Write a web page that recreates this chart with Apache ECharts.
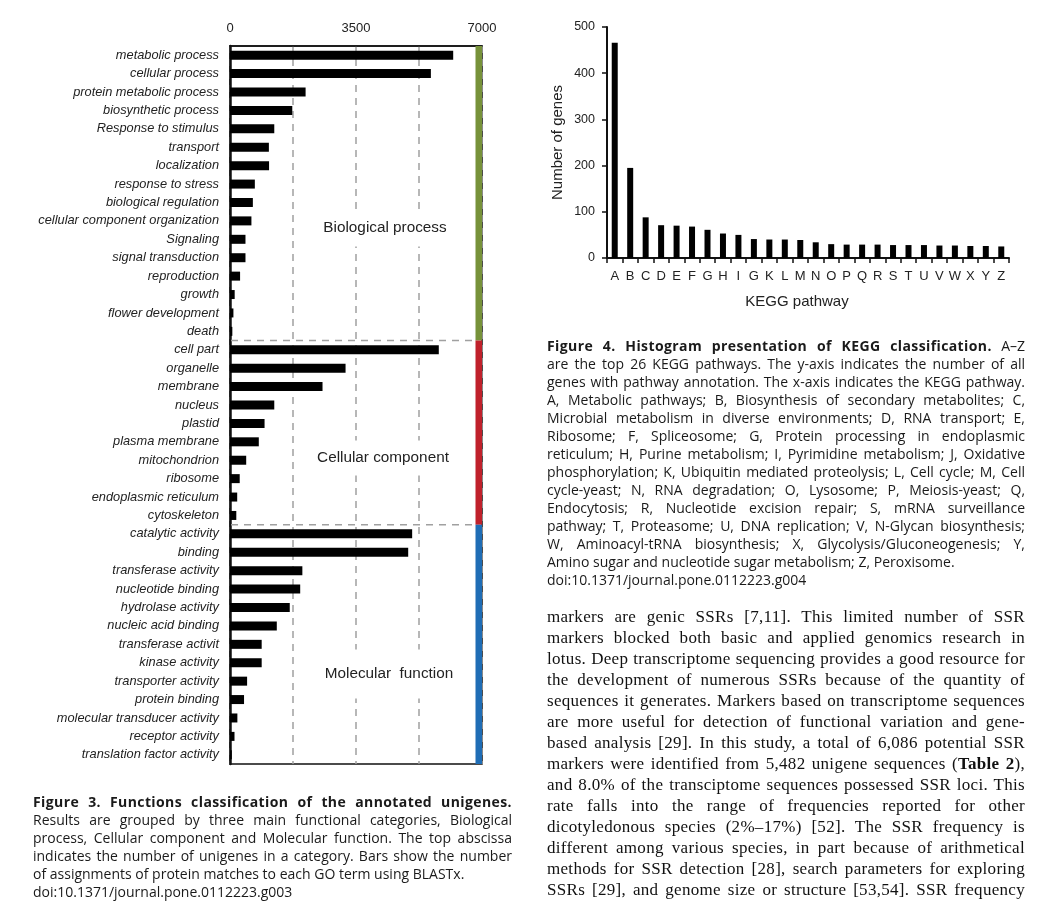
<!DOCTYPE html>
<html><head><meta charset="utf-8">
<script src="https://cdn.jsdelivr.net/npm/echarts@6/dist/echarts.min.js"></script>
<style>
html,body{margin:0;padding:0;background:#fff;}
#wrap{position:relative;width:1039px;height:909px;overflow:hidden;}
#chart{position:absolute;left:0;top:0;width:1039px;height:909px;}
.blk{position:absolute;color:#1a1a1a;}
.cap{font-family:'Open Sans';font-size:14px;line-height:18px;}
.cap b{letter-spacing:0.4px;}
.cap .ln{height:18px;}
.body{font-family:'Liberation Serif';font-size:17px;line-height:21px;color:#111;letter-spacing:0.3px;}
.body .ln{height:21px;}
.ln{white-space:nowrap;}
</style></head>
<body>
<div id="wrap">
<div id="chart"></div>
<div class="blk cap" id="cap3" style="left:33px;top:793px;width:479px;"></div>
<div class="blk cap" id="cap4" style="left:547px;top:337px;width:478px;"></div>
<div class="blk body" id="bodytext" style="left:547px;top:606px;width:478px;"></div>
</div>
<script>
// ---------- Figure 3 data (GO classification) ----------
const goCategories = [
  'metabolic process','cellular process','protein metabolic process','biosynthetic process',
  'Response to stimulus','transport','localization','response to stress','biological regulation',
  'cellular component organization','Signaling','signal transduction','reproduction','growth',
  'flower development','death',
  'cell part','organelle','membrane','nucleus','plastid','plasma membrane','mitochondrion',
  'ribosome','endoplasmic reticulum','cytoskeleton',
  'catalytic activity','binding','transferase activity','nucleotide binding','hydrolase activity',
  'nucleic acid binding','transferase activit','kinase activity','transporter activity',
  'protein binding','molecular transducer activity','receptor activity','translation factor activity'
];
const goValues = [
  6200, 5580, 2100, 1730, 1230, 1080, 1085, 690, 635, 595, 430, 430, 280, 130, 95, 65,
  5800, 3210, 2570, 1230, 960, 800, 450, 270, 200, 175,
  5060, 4950, 2010, 1950, 1660, 1300, 880, 880, 475, 390, 205, 125, 50
];
const goGroupNames = ['Biological process', 'Cellular component', 'Molecular  function'];
const goGroupSizes = [16, 10, 13];
const goGroupColors = ['#77923a', '#c0212b', '#1f6db5'];
const goTickLabels = [0, 3500, 7000];

// ---------- Figure 4 data (KEGG) ----------
const keggLetters = ['A','B','C','D','E','F','G','H','I','G','K','L','M','N','O','P','Q','R','S','T','U','V','W','X','Y','Z'];
const keggValues = [466, 195, 88, 71, 70, 68, 61, 53, 50, 41, 40, 40, 39, 34, 30, 29, 29, 29, 28, 28, 28, 27, 27, 26, 26, 25];
const keggYTicks = [0, 100, 200, 300, 400, 500];

// ---------- Text ----------
const cap3Lines = [
  ['<b>Figure 3. Functions classification of the annotated unigenes.</b>', true],
  ['Results are grouped by three main functional categories, Biological', true],
  ['process, Cellular component and Molecular function. The top abscissa', true],
  ['indicates the number of unigenes in a category. Bars show the number', true],
  ['of assignments of protein matches to each GO term using BLASTx.', false],
  ['doi:10.1371/journal.pone.0112223.g003', false]
];
const cap4Lines = [
  ['<b>Figure 4. Histogram presentation of KEGG classification.</b> A–Z', true],
  ['are the top 26 KEGG pathways. The y-axis indicates the number of all', true],
  ['genes with pathway annotation. The x-axis indicates the KEGG pathway.', true],
  ['A, Metabolic pathways; B, Biosynthesis of secondary metabolites; C,', true],
  ['Microbial metabolism in diverse environments; D, RNA transport; E,', true],
  ['Ribosome; F, Spliceosome; G, Protein processing in endoplasmic', true],
  ['reticulum; H, Purine metabolism; I, Pyrimidine metabolism; J, Oxidative', true],
  ['phosphorylation; K, Ubiquitin mediated proteolysis; L, Cell cycle; M, Cell', true],
  ['cycle-yeast; N, RNA degradation; O, Lysosome; P, Meiosis-yeast; Q,', true],
  ['Endocytosis; R, Nucleotide excision repair; S, mRNA surveillance', true],
  ['pathway; T, Proteasome; U, DNA replication; V, N-Glycan biosynthesis;', true],
  ['W, Aminoacyl-tRNA biosynthesis; X, Glycolysis/Gluconeogenesis; Y,', true],
  ['Amino sugar and nucleotide sugar metabolism; Z, Peroxisome.', false],
  ['doi:10.1371/journal.pone.0112223.g004', false]
];
const bodyLines = [
  ['markers are genic SSRs [7,11]. This limited number of SSR', true],
  ['markers blocked both basic and applied genomics research in', true],
  ['lotus. Deep transcriptome sequencing provides a good resource for', true],
  ['the development of numerous SSRs because of the quantity of', true],
  ['sequences it generates. Markers based on transcriptome sequences', true],
  ['are more useful for detection of functional variation and gene-', true],
  ['based analysis [29]. In this study, a total of 6,086 potential SSR', true],
  ['markers were identified from 5,482 unigene sequences (<b>Table 2</b>),', true],
  ['and 8.0% of the transciptome sequences possessed SSR loci. This', true],
  ['rate falls into the range of frequencies reported for other', true],
  ['dicotyledonous species (2%–17%) [52]. The SSR frequency is', true],
  ['different among various species, in part because of arithmetical', true],
  ['methods for SSR detection [28], search parameters for exploring', true],
  ['SSRs [29], and genome size or structure [53,54]. SSR frequency', true]
];

function fillLines(id, lines) {
  const el = document.getElementById(id);
  el.innerHTML = lines.map(l => '<div class="ln' + (l[1] ? ' j' : '') + '"><span>' + l[0] + '</span></div>').join('');
}
fillLines('cap3', cap3Lines);
fillLines('cap4', cap4Lines);
fillLines('bodytext', bodyLines);
function justify() {
  document.querySelectorAll('.j').forEach(function (ln) {
    const span = ln.firstChild;
    span.style.wordSpacing = '0px';
    const w = ln.parentElement.clientWidth;
    const nat = span.getBoundingClientRect().width;
    const n = (span.textContent.match(/ /g) || []).length;
    if (n > 0) span.style.wordSpacing = ((w - nat) / n) + 'px';
  });
}
justify();
if (document.fonts && document.fonts.ready) document.fonts.ready.then(justify);

// ---------- Chart ----------
const groupRanges = [];
let acc = 0;
goGroupSizes.forEach(function (n, i) { groupRanges.push([acc, acc + n - 1, i]); acc += n; });

const chart = echarts.init(document.getElementById('chart'), null, { renderer: 'canvas' });
const FONT = 'Liberation Sans';
const GO_MAX = goTickLabels[goTickLabels.length - 1];

const option = {
  animation: false,
  backgroundColor: '#fff',
  textStyle: { fontFamily: FONT },
  grid: [
    { left: 230, top: 46, width: 252, height: 718, show: true, borderColor: '#111', borderWidth: 1.5, backgroundColor: 'transparent' },
    { left: 607, top: 27, width: 402, height: 231 }
  ],
  xAxis: [
    {
      gridIndex: 0, type: 'value', position: 'top', min: 0, max: GO_MAX, interval: 1750,
      axisLine: { show: true, lineStyle: { color: '#111', width: 1.5 } },
      axisTick: { show: false },
      axisLabel: {
        margin: 11, fontSize: 13, color: '#222', fontFamily: FONT,
        formatter: function (v) { return goTickLabels.indexOf(v) >= 0 ? String(v) : ''; }
      },
      splitLine: { show: true, lineStyle: { color: '#a0a0a0', width: 1.5, type: [7, 6] } }
    },
    {
      gridIndex: 1, type: 'category', data: keggLetters, boundaryGap: true,
      axisLine: { show: true, lineStyle: { color: '#111', width: 2 } },
      axisTick: { show: true, length: 5, lineStyle: { color: '#111', width: 1.5 } },
      axisLabel: { interval: 0, margin: 12, fontSize: 13, color: '#222', fontFamily: FONT },
      name: 'KEGG pathway', nameLocation: 'middle', nameGap: 36,
      nameTextStyle: { fontSize: 15, color: '#222', fontFamily: FONT, padding: [0, 22, 0, 0] }
    }
  ],
  yAxis: [
    {
      gridIndex: 0, type: 'category', data: goCategories, inverse: true, boundaryGap: true,
      axisLine: { show: true, lineStyle: { color: '#111', width: 2.5 } },
      axisTick: { show: false },
      axisLabel: { interval: 0, margin: 11, fontSize: 12.8, fontStyle: 'italic', color: '#222', fontFamily: FONT },
      splitLine: { show: false }
    },
    {
      gridIndex: 1, type: 'value', min: keggYTicks[0], max: keggYTicks[keggYTicks.length - 1], interval: 100,
      axisLine: { show: true, lineStyle: { color: '#111', width: 2 } },
      axisTick: { show: true, length: 5, lineStyle: { color: '#111', width: 1.5 } },
      axisLabel: { margin: 12, fontSize: 12.5, color: '#222', fontFamily: FONT },
      splitLine: { show: false },
      name: 'Number of genes', nameLocation: 'middle', nameGap: 42,
      nameTextStyle: { fontSize: 15, color: '#222', fontFamily: FONT }
    }
  ],
  series: [
    {
      type: 'bar', xAxisIndex: 0, yAxisIndex: 0, data: goValues, barWidth: 9,
      itemStyle: { color: '#000' }, z: 3
    },
    {
      type: 'custom', xAxisIndex: 0, yAxisIndex: 0, clip: false, z: 4,
      data: groupRanges,
      encode: { x: 0, y: 1 },
      renderItem: function (params, api) {
        const s = api.value(0), e = api.value(1), gi = api.value(2);
        const band = Math.abs(api.size([0, 1])[1]);
        const pS = api.coord([GO_MAX, s]);
        const pE = api.coord([GO_MAX, e]);
        const p0 = api.coord([0, s]);
        const top = Math.min(pS[1], pE[1]) - band / 2;
        const bot = Math.max(pS[1], pE[1]) + band / 2;
        const children = [{
          type: 'rect', shape: { x: pS[0] - 6.5, y: top, width: 6.5, height: bot - top },
          style: { fill: goGroupColors[gi] }
        }];
        if (s > 0) {
          children.push({
            type: 'line', shape: { x1: p0[0] + 1, y1: top, x2: pS[0] - 6.5, y2: top },
            style: { stroke: '#a0a0a0', lineWidth: 1.5, lineDash: [7, 6] }
          });
        }
        return { type: 'group', children: children };
      }
    },
    {
      type: 'bar', xAxisIndex: 1, yAxisIndex: 1, data: keggValues, barWidth: 6,
      itemStyle: { color: '#000' }
    }
  ],
  graphic: [
    { type: 'text', z: 100, x: 385, y: 228, style: { text: goGroupNames[0], fill: '#222', font: '15.3px "Liberation Sans"', align: 'center', verticalAlign: 'middle', backgroundColor: '#fff', padding: [11, 4] } },
    { type: 'text', z: 100, x: 383, y: 458, style: { text: goGroupNames[1], fill: '#222', font: '15.3px "Liberation Sans"', align: 'center', verticalAlign: 'middle', backgroundColor: '#fff', padding: [10, 4] } },
    { type: 'text', z: 100, x: 389, y: 674, style: { text: goGroupNames[2], fill: '#222', font: '15.3px "Liberation Sans"', align: 'center', verticalAlign: 'middle', backgroundColor: '#fff', padding: [17, 4] } }
  ]
};
chart.setOption(option);
</script>
</body></html>
